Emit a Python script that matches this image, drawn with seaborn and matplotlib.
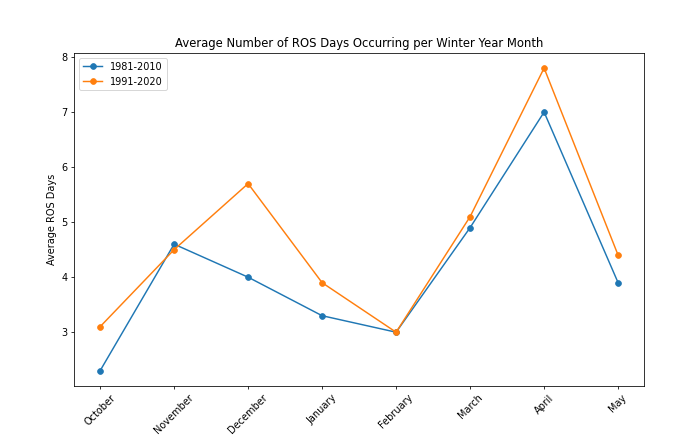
import numpy as np
import pandas as pd
import matplotlib
matplotlib.use("Agg")
import matplotlib.pyplot as plt
import seaborn as sns

months = ['October', 'November', 'December', 'January', 'February', 'March', 'April', 'May']
ros_1981_2010 = [2.3, 4.6, 4.0, 3.3, 3.0, 4.9, 7.0, 3.9]
ros_1991_2020 = [3.1, 4.5, 5.7, 3.9, 3.0, 5.1, 7.8, 4.4]

df = pd.DataFrame({
    'Month': months * 2,
    'ROS': ros_1981_2010 + ros_1991_2020,
    'Period': ['1981-2010'] * len(months) + ['1991-2020'] * len(months),
})

fig, ax = plt.subplots(figsize=(10, 6.3), dpi=70)
sns.lineplot(data=df, x='Month', y='ROS', hue='Period', marker='o',
             markeredgecolor=None, markersize=6, linewidth=1.5,
             palette=['#1f77b4', '#ff7f0e'], ax=ax, sort=False)
ax.set_title('Average Number of ROS Days Occurring per Winter Year Month', fontsize=12)
ax.set_xlabel('')
ax.set_ylabel('Average ROS Days')
ax.tick_params(axis='x', rotation=45)
ax.legend(loc='upper left')
fig.subplots_adjust(left=0.106, right=0.92, top=0.88, bottom=0.125)
fig.savefig('out.png', dpi=70)
